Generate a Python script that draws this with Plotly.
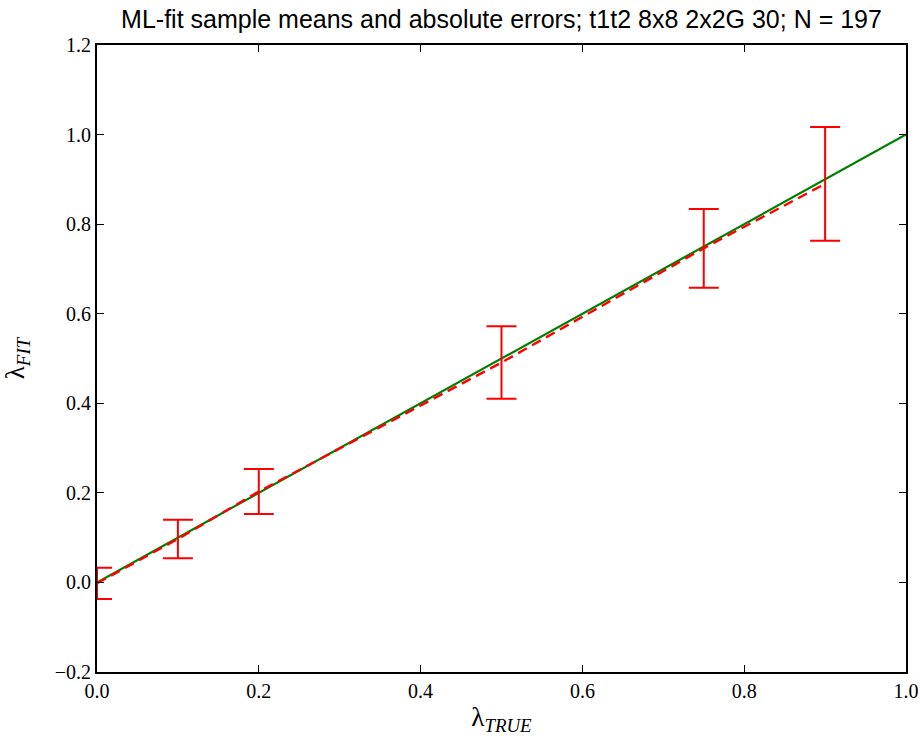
import plotly.graph_objects as go

x_true = [0.0, 0.1, 0.2, 0.5, 0.75, 0.9]
fit_mean = [-0.002, 0.097, 0.203, 0.491, 0.746, 0.890]
fit_err = [0.035, 0.043, 0.050, 0.081, 0.088, 0.127]
ref_x = [0.0, 1.0]
ref_y = [0.0, 1.0]
x_ticks = [0.0, 0.2, 0.4, 0.6, 0.8, 1.0]
y_ticks = [-0.2, 0.0, 0.2, 0.4, 0.6, 0.8, 1.0, 1.2]

fig = go.Figure()
fig.add_trace(go.Scatter(
    x=ref_x, y=ref_y, mode="lines",
    line=dict(color="green", width=2.2),
    showlegend=False,
))
fig.add_trace(go.Scatter(
    x=x_true, y=fit_mean, mode="lines",
    line=dict(color="red", width=2.4, dash="10px,6px"),
    error_y=dict(type="data", array=fit_err, visible=True, color="red", thickness=2, width=15),
    showlegend=False,
))

serif = "Liberation Serif, DejaVu Serif, serif"
axis_common = dict(
    showline=True, linecolor="black", linewidth=2, mirror="allticks",
    ticks="inside", ticklen=7, tickwidth=1, tickcolor="black",
    showgrid=False, zeroline=False, automargin=False,
    tickfont=dict(family=serif, size=20, color="black"),
)
fig.update_xaxes(range=[0, 1], tickvals=x_ticks, ticktext=[f"{v:.1f}" for v in x_ticks],
                 title=dict(text="λ<sub><i>TRUE</i></sub>", font=dict(family=serif, size=27, color="black"), standoff=6),
                 **axis_common)
fig.update_yaxes(range=[-0.2, 1.2], tickvals=y_ticks,
                 ticktext=[("−" if v < 0 else "") + f"{abs(v):.1f}" for v in y_ticks],
                 title=dict(text="λ<sub><i>FIT</i></sub>", font=dict(family=serif, size=27, color="black"), standoff=22),
                 **axis_common)

fig.update_layout(
    width=920, height=736,
    margin=dict(l=97, r=14, t=45, b=64),
    paper_bgcolor="white", plot_bgcolor="white",
    title=dict(text="ML-fit sample means and absolute errors; t1t2 8x8 2x2G 30; N = 197",
               font=dict(family="Liberation Sans, Arial, sans-serif", size=25, color="black"),
               x=0.5, xref="paper", xanchor="center", y=1 - 19 / 736, yref="container", yanchor="middle",
               automargin=False),
)
fig.write_html("out.html", config={"displayModeBar": False},
               post_script="document.body.style.margin='0px';")
